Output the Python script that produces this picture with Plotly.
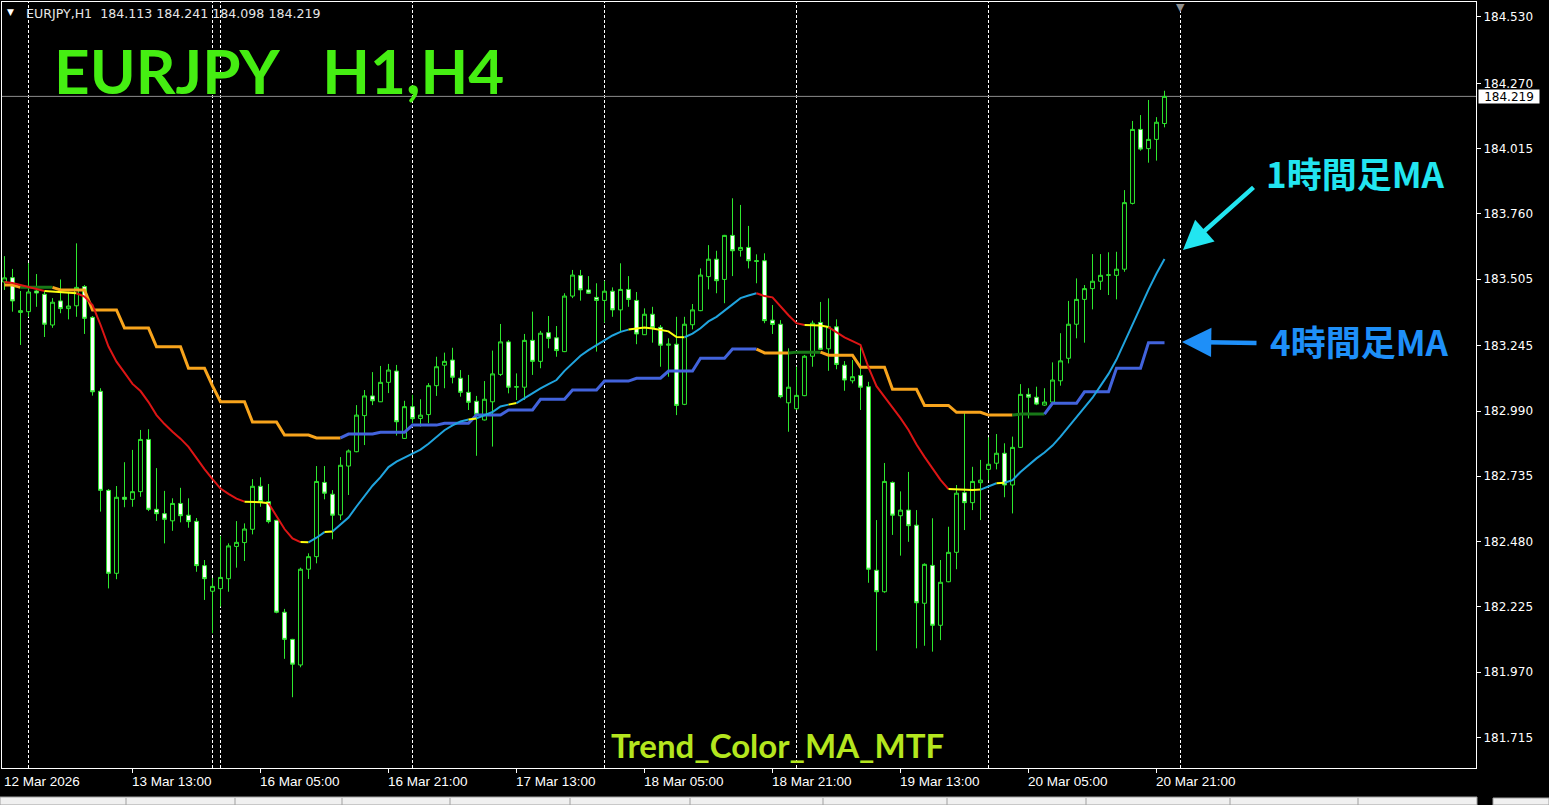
import plotly.graph_objects as go

# ---------------- data ----------------
# bar index 0 = 13 Mar 2026 00:00 (H1 bars)
first_bar = -3

opens = [
    183.494, 183.511, 183.375, 183.378, 183.459, 183.446, 183.326, 183.420, 183.390, 183.401,
    183.476, 183.356, 183.067, 182.680, 182.356, 182.653, 182.645, 182.675, 182.879, 182.606,
    182.589, 182.561, 182.629, 182.583, 182.559, 182.386, 182.286, 182.296, 182.335, 182.461,
    182.476, 182.528, 182.696, 182.636, 182.563, 182.204, 182.098, 181.998, 182.372, 182.421,
    182.711, 182.665, 182.584, 182.775, 182.831, 182.972, 183.049, 183.026, 183.102, 183.146,
    182.883, 183.007, 182.961, 182.976, 183.089, 183.169, 183.189, 183.118, 183.063, 183.028,
    182.955, 183.026, 183.133, 183.260, 183.083, 183.083, 183.266, 183.184, 183.296, 183.276,
    183.222, 183.439, 183.519, 183.463, 183.434, 183.422, 183.458, 183.385, 183.465, 183.422,
    183.288, 183.368, 183.317, 183.247, 183.251, 183.016, 183.327, 183.382, 183.515, 183.583,
    183.504, 183.676, 183.618, 183.629, 183.577, 183.577, 183.345, 183.329, 183.022, 182.999,
    183.050, 183.204, 183.336, 183.233, 183.319, 183.169, 183.108, 183.129, 183.085, 182.368,
    182.284, 182.711, 182.581, 182.603, 182.544, 182.239, 182.387, 182.153, 182.323, 182.438,
    182.671, 182.632, 182.710, 182.762, 182.786, 182.825, 182.701, 182.848, 183.055, 183.044,
    183.013, 183.025, 183.108, 183.196, 183.329, 183.426, 183.468, 183.497, 183.520, 183.520,
    183.544, 183.801, 184.090, 184.015, 184.051, 184.113,
]
highs = [
    183.595, 183.545, 183.459, 183.568, 183.525, 183.459, 183.431, 183.504, 183.456, 183.645,
    183.482, 183.361, 183.079, 182.685, 182.697, 182.790, 182.838, 182.916, 182.919, 182.767,
    182.678, 182.649, 182.690, 182.649, 182.572, 182.408, 182.338, 182.502, 182.473, 182.560,
    182.551, 182.724, 182.731, 182.705, 182.565, 182.217, 182.100, 182.378, 182.434, 182.775,
    182.775, 182.681, 182.810, 182.840, 183.013, 183.072, 183.142, 183.166, 183.174, 183.170,
    183.030, 183.053, 183.036, 183.099, 183.202, 183.218, 183.237, 183.150, 183.131, 183.049,
    183.107, 183.226, 183.330, 183.267, 183.137, 183.291, 183.378, 183.303, 183.361, 183.322,
    183.450, 183.541, 183.541, 183.517, 183.489, 183.499, 183.473, 183.567, 183.517, 183.455,
    183.391, 183.397, 183.326, 183.274, 183.358, 183.358, 183.408, 183.547, 183.638, 183.616,
    183.678, 183.821, 183.795, 183.713, 183.602, 183.606, 183.404, 183.345, 183.235, 183.163,
    183.209, 183.343, 183.416, 183.430, 183.348, 183.185, 183.189, 183.241, 183.104, 182.564,
    182.787, 182.715, 182.676, 182.752, 182.603, 182.395, 182.571, 182.408, 182.538, 182.701,
    182.983, 182.772, 182.799, 182.887, 182.900, 182.864, 182.890, 183.095, 183.079, 183.085,
    183.079, 183.180, 183.294, 183.420, 183.508, 183.482, 183.603, 183.603, 183.610, 183.612,
    183.853, 184.123, 184.146, 184.205, 184.138, 184.241,
]
lows = [
    183.463, 183.378, 183.248, 183.358, 183.397, 183.279, 183.315, 183.372, 183.348, 183.358,
    183.291, 183.050, 182.597, 182.297, 182.333, 182.614, 182.616, 182.655, 182.599, 182.561,
    182.473, 182.522, 182.555, 182.534, 182.362, 182.252, 182.122, 182.226, 182.284, 182.378,
    182.404, 182.508, 182.616, 182.551, 182.200, 182.022, 181.872, 181.989, 182.334, 182.395,
    182.645, 182.489, 182.564, 182.662, 182.829, 182.857, 183.013, 183.025, 183.060, 182.894,
    182.881, 182.942, 182.929, 182.942, 183.049, 183.079, 183.098, 183.046, 182.994, 182.815,
    182.953, 182.851, 183.127, 183.059, 183.033, 183.033, 183.131, 183.157, 183.235, 183.202,
    183.220, 183.431, 183.421, 183.447, 183.222, 183.335, 183.358, 183.300, 183.397, 183.251,
    183.287, 183.257, 183.163, 183.124, 182.974, 183.013, 183.309, 183.380, 183.465, 183.450,
    183.411, 183.517, 183.593, 183.547, 183.489, 183.333, 183.291, 183.040, 182.909, 182.994,
    183.048, 183.163, 183.229, 183.147, 183.153, 183.069, 183.098, 182.994, 182.319, 182.054,
    182.280, 182.506, 182.425, 182.479, 182.063, 182.073, 182.050, 182.095, 182.321, 182.372,
    182.525, 182.603, 182.564, 182.720, 182.762, 182.653, 182.590, 182.846, 182.961, 183.013,
    183.010, 183.022, 183.089, 183.176, 183.274, 183.257, 183.387, 183.463, 183.443, 183.426,
    183.534, 183.797, 184.007, 183.960, 183.968, 184.098,
]
closes = [
    183.510, 183.420, 183.382, 183.455, 183.451, 183.329, 183.415, 183.390, 183.400, 183.473,
    183.352, 183.065, 182.680, 182.356, 182.653, 182.645, 182.675, 182.879, 182.606, 182.589,
    182.567, 182.629, 182.581, 182.558, 182.386, 182.335, 182.305, 182.340, 182.463, 182.477,
    182.529, 182.696, 182.636, 182.558, 182.204, 182.098, 182.001, 182.372, 182.421, 182.715,
    182.669, 182.583, 182.778, 182.834, 182.974, 183.049, 183.030, 183.102, 183.150, 182.948,
    183.007, 182.960, 182.974, 183.089, 183.163, 183.184, 183.122, 183.063, 183.024, 182.977,
    183.036, 183.135, 183.260, 183.083, 183.085, 183.266, 183.184, 183.294, 183.274, 183.226,
    183.439, 183.521, 183.463, 183.450, 183.422, 183.458, 183.385, 183.465, 183.426, 183.291,
    183.368, 183.315, 183.247, 183.251, 183.012, 183.329, 183.385, 183.521, 183.583, 183.499,
    183.676, 183.616, 183.629, 183.577, 183.575, 183.343, 183.328, 183.046, 183.083, 183.051,
    183.204, 183.333, 183.231, 183.319, 183.172, 183.111, 183.124, 183.083, 182.372, 182.284,
    182.715, 182.583, 182.603, 182.542, 182.241, 182.391, 182.153, 182.321, 182.438, 182.669,
    182.632, 182.715, 182.720, 182.782, 182.825, 182.701, 182.848, 183.055, 183.044, 183.017,
    183.025, 183.111, 183.186, 183.329, 183.426, 183.468, 183.497, 183.520, 183.522, 183.544,
    183.804, 184.090, 184.013, 184.051, 184.118, 184.219,
]

# 1-hour MA (per H1 bar) and its trend colouring runs
ma_h1 = [
    183.494, 183.490, 183.482, 183.474, 183.467, 183.459, 183.457, 183.455, 183.453, 183.450,
    183.437, 183.404, 183.327, 183.242, 183.183, 183.140, 183.096, 183.068, 183.025, 182.974,
    182.939, 182.909, 182.882, 182.850, 182.806, 182.763, 182.724, 182.687, 182.666, 182.648,
    182.636, 182.635, 182.634, 182.630, 182.578, 182.529, 182.492, 182.478, 182.477, 182.495,
    182.517, 182.519, 182.546, 182.574, 182.617, 182.658, 182.698, 182.732, 182.771, 182.792,
    182.807, 182.823, 182.839, 182.862, 182.889, 182.915, 182.934, 182.949, 182.957, 182.961,
    182.974, 182.986, 183.008, 183.015, 183.021, 183.041, 183.060, 183.078, 183.095, 183.111,
    183.147, 183.178, 183.206, 183.228, 183.248, 183.267, 183.285, 183.299, 183.308, 183.312,
    183.316, 183.312, 183.306, 183.301, 183.279, 183.278, 183.292, 183.313, 183.340, 183.358,
    183.383, 183.408, 183.431, 183.441, 183.450, 183.439, 183.434, 183.397, 183.364, 183.333,
    183.326, 183.325, 183.324, 183.318, 183.297, 183.278, 183.263, 183.248, 183.160, 183.087,
    183.045, 183.004, 182.962, 182.916, 182.859, 182.811, 182.764, 182.721, 182.685, 182.684,
    182.683, 182.681, 182.683, 182.697, 182.708, 182.710, 182.720, 182.752, 182.780, 182.805,
    182.828, 182.855, 182.890, 182.928, 182.967, 183.004, 183.042, 183.088, 183.135, 183.191,
    183.261, 183.330, 183.399, 183.464, 183.527, 183.584,
]
h1_trend_state = ["down", "flat", "down", "flat", "down", "flat", "up", "flat", "up", "flat",
                  "up", "flat", "up", "flat", "up", "down", "flat", "down", "flat", "up",
                  "flat", "up"]
h1_trend_len = [6, 4, 21, 3, 4, 1, 2, 1, 17, 1,
                4, 1, 14, 7, 9, 6, 3, 15, 4, 2,
                1, 20]

# 4-hour MA: value of each H4 bar and the H1 bar where it starts
h4_start = [-3, -1, 4, 8, 12, 16, 20, 23, 24, 28, 32, 36, 40, 44, 48, 52, 56, 60, 64,
            68, 72, 76, 80, 84, 88, 92, 96, 100, 104, 108, 112, 116, 120, 124, 128,
            132, 136, 140]
h4_value = [183.482, 183.473, 183.463, 183.385, 183.314, 183.241, 183.157, 183.088,
            183.026, 182.947, 182.896, 182.885, 182.900, 182.907, 182.935, 182.942,
            182.974, 182.994, 183.036, 183.072, 183.107, 183.118, 183.146, 183.196,
            183.232, 183.217, 183.220, 183.208, 183.161, 183.075, 183.012, 182.985,
            182.974, 182.978, 183.020, 183.065, 183.157, 183.257]
h4_trend_state = ["down", "flat", "down", "up", "down", "flat", "down", "flat", "up"]
h4_trend_len = [3, 4, 36, 52, 4, 4, 24, 4, 15]

# axis labels
date_tick_bars = [-3, 13, 29, 45, 61, 77, 93, 109, 125, 141]
date_tick_text = ["12 Mar 2026", "13 Mar 13:00", "16 Mar 05:00", "16 Mar 21:00",
                  "17 Mar 13:00", "18 Mar 05:00", "18 Mar 21:00", "19 Mar 13:00",
                  "20 Mar 05:00", "20 Mar 21:00"]
separator_bars = [0, 23, 24, 48, 72, 96, 120, 144]
price_ticks = [181.715, 181.970, 182.225, 182.480, 182.735, 182.990,
               183.245, 183.505, 183.760, 184.015, 184.270, 184.530]
bid_price = 184.219
header_text = "EURJPY,H1\u00a0\u00a0184.113 184.241 184.098 184.219"

# ---------------- layout constants ----------------
W, H = 1549, 805
PL, PR, PT, PB = 2, 1476, 2, 768          # plot area in pixels
X_RANGE = [-3.3125, 180.9375]
Y_RANGE = [181.5955, 184.5877]

CANDLE = "#2ee82e"
H1_COL = {"up": "#20a4de", "down": "#dd1515", "flat": "#ffff10"}
H4_COL = {"up": "#4263dc", "down": "#f8a41c", "flat": "#187818"}


def px_x(px):
    return (px - PL) / (PR - PL)


def px_y(py):
    return (PB - py) / (PB - PT)


n_bars = len(opens)
bar_index = list(range(first_bar, first_bar + n_bars))

# expand H4 values onto H1 bars
ma_h4 = []
for k, s in enumerate(h4_start):
    e = h4_start[k + 1] if k + 1 < len(h4_start) else first_bar + n_bars
    ma_h4 += [h4_value[k]] * (e - s)


def trend_traces(values, states, lengths, colors, width):
    out = []
    pos = 0
    for st, n in zip(states, lengths):
        start = max(pos - 1, 0)
        end = pos + n
        out.append(go.Scatter(
            x=bar_index[start:end], y=values[start:end], mode="lines",
            line=dict(color=colors[st], width=width),
            hoverinfo="skip", showlegend=False))
        pos = end
    return out


fig = go.Figure()
fig.add_trace(go.Candlestick(
    x=bar_index, open=opens, high=highs, low=lows, close=closes,
    increasing=dict(line=dict(color=CANDLE, width=1), fillcolor="#000000"),
    decreasing=dict(line=dict(color=CANDLE, width=1), fillcolor="#ffffff"),
    whiskerwidth=0, hoverinfo="skip", showlegend=False))

for tr in trend_traces(ma_h4, h4_trend_state, h4_trend_len, H4_COL, 3):
    fig.add_trace(tr)
for tr in trend_traces(ma_h1, h1_trend_state, h1_trend_len, H1_COL, 2):
    fig.add_trace(tr)

shapes = []
for b in separator_bars:
    shapes.append(dict(type="line", xref="x", yref="paper", x0=b, x1=b, y0=0,
                       y1=px_y(10) if b == 144 else 1,
                       line=dict(color="#ffffff", width=1, dash="3px,2px"), layer="below"))
shapes.append(dict(type="line", xref="paper", yref="y", x0=0, x1=1, y0=bid_price, y1=bid_price,
                   line=dict(color="#8c8c8c", width=1), layer="below"))
# bottom tab strip
shapes.append(dict(type="rect", xref="paper", yref="paper", x0=px_x(0), x1=px_x(1477),
                   y0=px_y(805), y1=px_y(797), fillcolor="#f0f0f0",
                   line=dict(color="#a0a0a0", width=1), layer="above"))
for tx in [126, 235, 342, 450, 570, 690, 823, 947, 1086, 1230, 1358]:
    shapes.append(dict(type="line", xref="paper", yref="paper", x0=px_x(tx), x1=px_x(tx),
                       y0=px_y(805), y1=px_y(798), line=dict(color="#a0a0a0", width=1)))
shapes.append(dict(type="rect", xref="paper", yref="paper", x0=px_x(1493), x1=px_x(1549),
                   y0=px_y(805), y1=px_y(798), fillcolor="#f0f0f0",
                   line=dict(color="#a0a0a0", width=1)))


def label(px, py, text, font, xanchor="center"):
    return dict(x=px_x(px), xref="paper", y=px_y(py), yref="paper", text=text,
                showarrow=False, xanchor=xanchor, yanchor="middle", font=font)


annotations = []
for b, t in zip(date_tick_bars, date_tick_text):
    annotations.append(dict(x=b, xref="x", y=0, yref="paper", text=t, showarrow=False,
                            xanchor="left", yanchor="top", xshift=-3, yshift=-4,
                            font=dict(family="Liberation Sans", size=13.5, color="#ffffff")))
annotations.append(dict(x=1, xref="paper", y=bid_price, yref="y", text=f"{bid_price:.3f}",
                        showarrow=False, xanchor="left", yanchor="middle", xshift=2,
                        bgcolor="#ffffff", width=60, height=13, borderpad=0,
                        font=dict(family="DejaVu Sans", size=12, color="#000000")))
annotations.append(label(10, 12, "\u25bc", dict(family="DejaVu Sans", size=9, color="#ffffff")))
annotations.append(label(24, 13, header_text,
                         dict(family="DejaVu Sans", size=12.6, color="#e6e6e6"), "left"))
annotations.append(dict(x=144, xref="x", y=1, yref="paper", text="\u25bc", showarrow=False,
                        xanchor="center", yanchor="top", yshift=3,
                        font=dict(family="DejaVu Sans", size=11, color="#909090")))
annotations.append(label(52, 70, "<b>EURJPY\u00a0\u00a0\u00a0H1,H4</b>",
                         dict(family="Lato", size=62, color="#45ee12"), "left"))
annotations.append(label(777, 745, "<b>Trend_Color_MA_MTF</b>",
                         dict(family="Lato", size=33, color="#b4e61e")))
annotations.append(label(1355, 173, "<b>1時間足MA</b>",
                         dict(family="Noto Sans CJK JP", size=35, color="#22e5f0")))
annotations.append(label(1359, 340, "<b>4時間足MA</b>",
                         dict(family="Noto Sans CJK JP", size=35, color="#1e8ff8")))
annotations.append(dict(x=px_x(1183), xref="paper", y=px_y(250), yref="paper", text="",
                        showarrow=True, ax=72, ay=-64, arrowhead=2, arrowsize=1.3,
                        arrowwidth=4.5, arrowcolor="#22e5f0", standoff=0))
annotations.append(dict(x=px_x(1182), xref="paper", y=px_y(342), yref="paper", text="",
                        showarrow=True, ax=76, ay=1, arrowhead=2, arrowsize=1.3,
                        arrowwidth=4.5, arrowcolor="#1e8ff8", standoff=0))

fig.update_layout(
    width=W, height=H,
    margin=dict(l=PL, r=W - PR, t=PT, b=H - PB, pad=0),
    paper_bgcolor="#000000", plot_bgcolor="#000000",
    showlegend=False, hovermode=False,
    shapes=shapes, annotations=annotations,
    xaxis=dict(range=X_RANGE, showgrid=False, zeroline=False, showline=True, mirror=True,
               linecolor="#ffffff", linewidth=1, tickvals=date_tick_bars[1:], ticks="outside",
               ticklen=4, tickcolor="#ffffff", showticklabels=False,
               rangeslider=dict(visible=False), fixedrange=True),
    yaxis=dict(range=Y_RANGE, side="right", showgrid=False, zeroline=False, showline=True,
               mirror=True, linecolor="#ffffff", linewidth=1, tickvals=price_ticks,
               ticktext=[f"{p:.3f}" for p in price_ticks], ticks="outside", ticklen=4,
               tickcolor="#ffffff", tickfont=dict(family="DejaVu Sans", size=12, color="#ffffff"),
               fixedrange=True),
)

fig.write_html("out.html", config={"displayModeBar": False},
               post_script="document.body.style.margin='0';document.body.style.overflow='hidden';")
